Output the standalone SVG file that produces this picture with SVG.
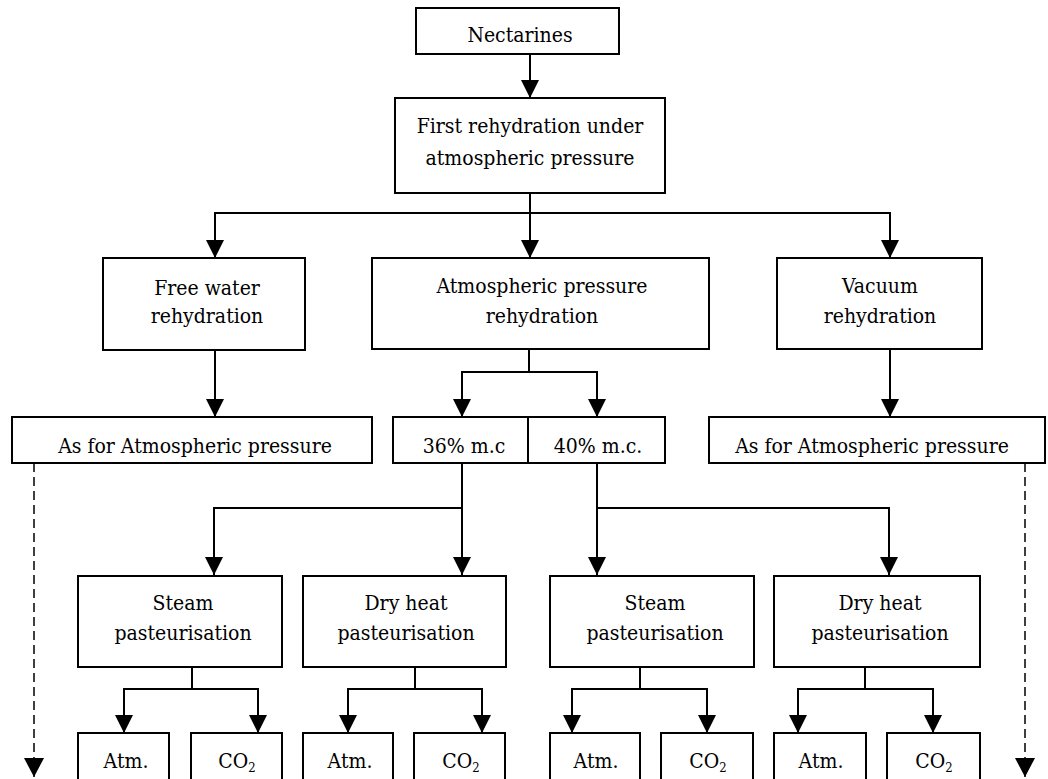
<svg xmlns="http://www.w3.org/2000/svg" width="1048" height="779" viewBox="0 0 1048 779">
<defs>
<marker id="ah" markerUnits="userSpaceOnUse" markerWidth="18" markerHeight="18" refX="18" refY="9" orient="auto" viewBox="0 0 18 18">
<path d="M0,0 L18,9 L0,18 Z" fill="#000" stroke="none"/>
</marker>
<marker id="ahd" markerUnits="userSpaceOnUse" markerWidth="19" markerHeight="20" refX="19" refY="10" orient="auto" viewBox="0 0 19 20">
<path d="M0,0 L19,10 L0,20 Z" fill="#000" stroke="none"/>
</marker>
<style>
.box{fill:#fff;stroke:#000;stroke-width:2}
.t{font-family:'DejaVu Serif Condensed','DejaVu Serif',serif;font-stretch:condensed;font-size:21px;fill:#000;text-anchor:middle}
.c{fill:none;stroke:#000;stroke-width:2;marker-end:url(#ah)}
.l{fill:none;stroke:#000;stroke-width:2}
.d{fill:none;stroke:#000;stroke-width:1.5;stroke-dasharray:9 5;marker-end:url(#ahd)}
</style>
</defs>
<rect width="1048" height="779" fill="#fff"/>
<g id="connectors">
<path class="c" d="M530,54 V98"/>
<path class="c" d="M530,193 V258"/>
<path class="c" d="M530,213 H215 V258"/>
<path class="c" d="M530,213 H890 V258"/>
<path class="c" d="M215,350 V417"/>
<path class="c" d="M890,349 V417"/>
<path class="l" d="M529,349 V372"/>
<path class="c" d="M529,372 H462 V417"/>
<path class="c" d="M529,372 H597 V417"/>
<path class="d" d="M34,463 V777"/>
<path class="d" d="M1025,463 V777"/>
<path class="c" d="M462,463 V575"/>
<path class="c" d="M462,508 H214 V575"/>
<path class="c" d="M597,463 V575"/>
<path class="c" d="M597,508 H889 V575"/>
<path class="l" d="M192,667 V689"/>
<path class="c" d="M192,689 H124 V733"/>
<path class="c" d="M192,689 H258 V733"/>
<path class="l" d="M415,667 V689"/>
<path class="c" d="M415,689 H348 V733"/>
<path class="c" d="M415,689 H482 V733"/>
<path class="l" d="M640,667 V689"/>
<path class="c" d="M640,689 H572 V733"/>
<path class="c" d="M640,689 H707 V733"/>
<path class="l" d="M865,667 V689"/>
<path class="c" d="M865,689 H798 V733"/>
<path class="c" d="M865,689 H933 V733"/>
</g>
<g id="nectarines">
<rect class="box" x="416" y="8" width="203" height="46"/>
<text class="t" x="520" y="42">Nectarines</text>
</g>
<g id="first-rehydration">
<rect class="box" x="395" y="98" width="270" height="95"/>
<text class="t" x="530" y="133">First rehydration under</text>
<text class="t" x="530" y="165">atmospheric pressure</text>
</g>
<g id="free-water">
<rect class="box" x="103" y="258" width="202" height="92"/>
<text class="t" x="207" y="295">Free water</text>
<text class="t" x="207" y="323">rehydration</text>
</g>
<g id="atmospheric">
<rect class="box" x="372" y="258" width="337" height="91"/>
<text class="t" x="542" y="293">Atmospheric pressure</text>
<text class="t" x="542" y="323">rehydration</text>
</g>
<g id="vacuum">
<rect class="box" x="777" y="258" width="205" height="91"/>
<text class="t" x="880" y="293">Vacuum</text>
<text class="t" x="880" y="323">rehydration</text>
</g>
<g id="as-for-left">
<rect class="box" x="12" y="417" width="360" height="46"/>
<text class="t" x="195" y="453">As for Atmospheric pressure</text>
</g>
<g id="mc-36">
<rect class="box" x="393" y="417" width="135" height="46"/>
<text class="t" x="464" y="453">36% m.c</text>
</g>
<g id="mc-40">
<rect class="box" x="528" y="417" width="137" height="46"/>
<text class="t" x="598" y="453">40% m.c.</text>
</g>
<g id="as-for-right">
<rect class="box" x="709" y="417" width="336" height="46"/>
<text class="t" x="872" y="453">As for Atmospheric pressure</text>
</g>
<g id="steam-1">
<rect class="box" x="78" y="576" width="204" height="91"/>
<text class="t" x="183" y="610">Steam</text>
<text class="t" x="183" y="640">pasteurisation</text>
</g>
<g id="dry-1">
<rect class="box" x="303" y="576" width="203" height="91"/>
<text class="t" x="406" y="610">Dry heat</text>
<text class="t" x="406" y="640">pasteurisation</text>
</g>
<g id="steam-2">
<rect class="box" x="550" y="576" width="204" height="91"/>
<text class="t" x="655" y="610">Steam</text>
<text class="t" x="655" y="640">pasteurisation</text>
</g>
<g id="dry-2">
<rect class="box" x="774" y="576" width="206" height="91"/>
<text class="t" x="880" y="610">Dry heat</text>
<text class="t" x="880" y="640">pasteurisation</text>
</g>
<g id="atm-1">
<rect class="box" x="78" y="733" width="91" height="60"/>
<text class="t" x="126" y="768">Atm.</text>
</g>
<g id="co2-1">
<rect class="box" x="191" y="733" width="91" height="60"/>
<text class="t" x="237" y="768">CO<tspan font-size="13" dy="4">2</tspan></text>
</g>
<g id="atm-2">
<rect class="box" x="303" y="733" width="90" height="60"/>
<text class="t" x="350" y="768">Atm.</text>
</g>
<g id="co2-2">
<rect class="box" x="414" y="733" width="91" height="60"/>
<text class="t" x="461" y="768">CO<tspan font-size="13" dy="4">2</tspan></text>
</g>
<g id="atm-3">
<rect class="box" x="550" y="733" width="90" height="60"/>
<text class="t" x="596" y="768">Atm.</text>
</g>
<g id="co2-3">
<rect class="box" x="661" y="733" width="92" height="60"/>
<text class="t" x="708" y="768">CO<tspan font-size="13" dy="4">2</tspan></text>
</g>
<g id="atm-4">
<rect class="box" x="774" y="733" width="92" height="60"/>
<text class="t" x="821" y="768">Atm.</text>
</g>
<g id="co2-4">
<rect class="box" x="887" y="733" width="93" height="60"/>
<text class="t" x="934" y="768">CO<tspan font-size="13" dy="4">2</tspan></text>
</g>
</svg>
